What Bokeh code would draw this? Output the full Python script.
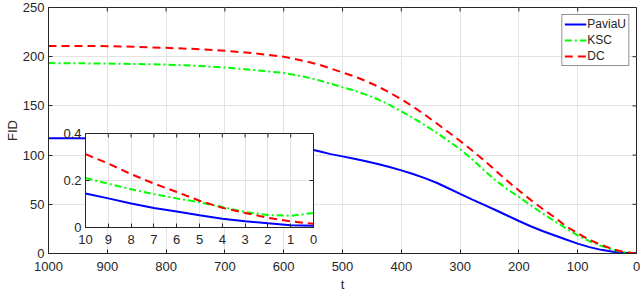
from math import pi
from bokeh.plotting import figure
from bokeh.models import Range1d, FixedTicker, Legend, LegendItem
from bokeh.layouts import column
from bokeh.embed import file_html
from bokeh.resources import INLINE

# ---- main data ----
t = [1000, 950, 900, 850, 800, 750, 700, 650, 600,
     560, 540, 520, 500, 480, 460, 440, 420, 400, 380, 360, 340, 320, 300,
     280, 260, 240, 220, 200, 180, 160, 140, 120, 100, 80, 60, 40, 20, 0]
paviau = [117, 117, 116.8, 116.5, 116, 115.3, 114.3, 112.8, 110.5,
          106.8, 104, 101, 98.7, 96.3, 93.8, 91, 87.9, 84.5, 80.8, 76.6, 71.9, 66.3, 60.6,
          55, 49.6, 44.2, 38.6, 33, 27.7, 22.9, 18.5, 14.2, 10, 6.5, 3.7, 1.8, 0.7, 0.4]
ksc = [193.5, 193.3, 193, 192.6, 192, 190.8, 189, 186.5, 183.5,
       179, 176, 172.5, 169, 165.5, 161.5, 156.8, 151, 144.5, 137.8, 130.5, 122.7, 114.5, 106,
       96, 85, 74.5, 65.5, 57.5, 49, 40.8, 33, 25.5, 18.5, 12.5, 7.7, 3.8, 1.2, 0.3]
dc = [211, 211, 210.7, 210, 209, 207.8, 206, 203.5, 200,
      195, 192, 188, 184, 180, 175.2, 169.8, 163.6, 156.7, 149.2, 141, 132.3, 123.4, 114.4,
      105, 95, 84.5, 74, 64, 54.5, 45.5, 37, 27.8, 20.5, 14, 8.8, 4.3, 1.4, 0.3]

# ---- inset data ----
ti = [10, 9, 8, 7, 6, 5, 4, 3, 2, 1, 0]
paviau_i = [0.145, 0.124, 0.102, 0.083, 0.068, 0.052, 0.037, 0.027, 0.018, 0.010, 0.007]
ksc_i = [0.211, 0.186, 0.163, 0.142, 0.124, 0.107, 0.087, 0.066, 0.053, 0.050, 0.062]
dc_i = [0.312, 0.272, 0.227, 0.187, 0.151, 0.114, 0.084, 0.062, 0.041, 0.026, 0.016]

x_ticks = [1000, 900, 800, 700, 600, 500, 400, 300, 200, 100, 0]
y_ticks = [0, 50, 100, 150, 200, 250]
xi_ticks = [10, 9, 8, 7, 6, 5, 4, 3, 2, 1, 0]
yi_ticks = [0, 0.2, 0.4]

FONT = "Liberation Sans"
INK = "#262626"
GRID = "#e3e3e3"
BLUE, GREEN, RED = "#0000ff", "#00ff00", "#ff0000"


def style_axis(ax, ticks, fs):
    ax.ticker = FixedTicker(ticks=ticks)
    ax.axis_line_color = INK
    ax.major_tick_line_color = INK
    ax.major_tick_in = 4
    ax.major_tick_out = 0
    ax.minor_tick_line_color = None
    ax.major_label_text_font = FONT
    ax.major_label_text_color = INK
    ax.major_label_text_font_size = fs
    ax.axis_label_text_font = FONT
    ax.axis_label_text_font_style = "normal"
    ax.axis_label_text_color = INK
    ax.axis_label_text_font_size = "13px"


def setup(fig, xt, yt, fs):
    xb = fig.below[0]
    yl = fig.left[0]
    style_axis(xb, xt, fs)
    style_axis(yl, yt, fs)
    fig.xgrid.ticker = FixedTicker(ticks=xt)
    fig.ygrid.ticker = FixedTicker(ticks=yt)
    fig.xgrid.grid_line_color = GRID
    fig.ygrid.grid_line_color = GRID
    fig.outline_line_color = INK
    # inward ticks on the top and right edges of the box
    xr, yr = fig.x_range, fig.y_range
    fig.ray(x=xt, y=[yr.end] * len(xt), length=4, length_units="screen",
            angle=-pi / 2, line_color=INK, line_width=1)
    fig.ray(x=[xr.end] * len(yt), y=yt, length=4, length_units="screen",
            angle=pi, line_color=INK, line_width=1)
    return xb, yl


# ---- main figure ----
p = figure(width=640, height=294, output_backend="svg", toolbar_location=None,
           x_range=Range1d(1000, 0), y_range=Range1d(0, 250),
           min_border_left=48, min_border_right=4, min_border_top=7, min_border_bottom=41)
xb, yl = setup(p, x_ticks, y_ticks, "13px")
xb.axis_label = "t"
yl.axis_label = "FID"
xb.major_label_standoff = 8
yl.major_label_standoff = 4
xb.axis_label_standoff = 3
yl.axis_label_standoff = 0

r1 = p.line(t, paviau, line_color=BLUE, line_width=2)
r2 = p.line(t, ksc, line_color=GREEN, line_width=2, line_dash="7 3 2 3")
r3 = p.line(t, dc, line_color=RED, line_width=2, line_dash="8 5")

legend = Legend(items=[LegendItem(label="PaviaU", renderers=[r1]),
                       LegendItem(label="KSC", renderers=[r2]),
                       LegendItem(label="DC", renderers=[r3])],
                location="top_right")
legend.label_text_font = FONT
legend.label_text_font_size = "12px"
legend.label_text_color = INK
legend.label_height = 14
legend.glyph_height = 14
legend.glyph_width = 22
legend.spacing = 2
legend.padding = 2
legend.margin = 7
legend.label_standoff = 1
legend.border_line_color = INK
legend.border_line_width = 1
p.add_layout(legend)

# ---- inset figure (left/right borders are aligned with the main figure by the column) ----
q = figure(width=280, height=127, output_backend="svg", toolbar_location=None,
           x_range=Range1d(10, 0), y_range=Range1d(0, 0.4),
           min_border_left=48, min_border_right=4, min_border_top=8, min_border_bottom=25)
q.border_fill_color = None
q.background_fill_color = "white"
qx, qy = setup(q, xi_ticks, yi_ticks, "13px")
qx.major_label_standoff = 7
qy.major_label_standoff = 4
q.line(ti, paviau_i, line_color=BLUE, line_width=2)
q.line(ti, ksc_i, line_color=GREEN, line_width=2, line_dash="7 3 2 3")
q.line(ti, dc_i, line_color=RED, line_width=2, line_dash="8 5")
q.styles = {"position": "absolute", "left": "37px", "top": "125px", "z-index": "5"}

layout = column(p, q)
layout.styles = {"position": "relative"}

open("out.html", "w").write(file_html(layout, INLINE))
